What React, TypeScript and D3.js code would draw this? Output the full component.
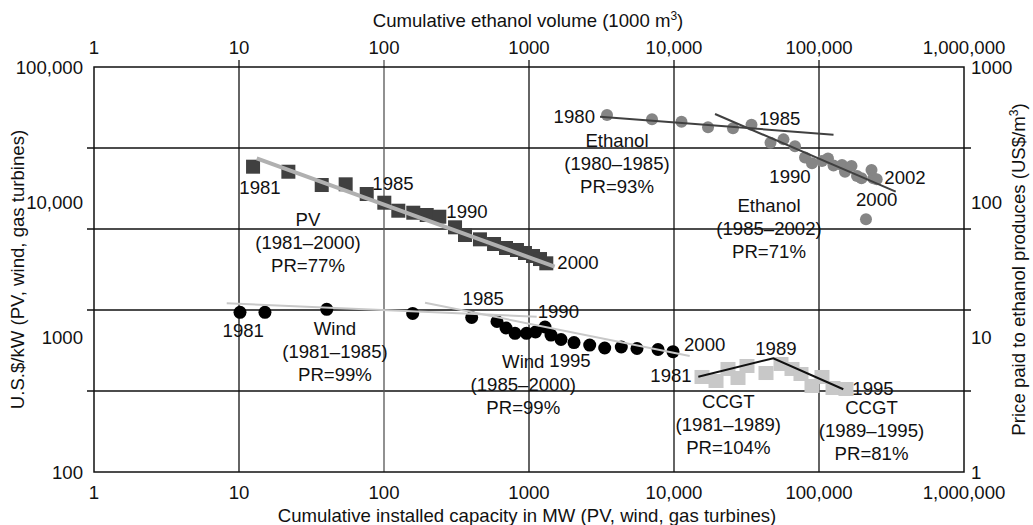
import React from 'react';
import * as d3 from 'd3';

const W = 1033;
const H = 525;
const P = { left: 94, right: 964, top: 67, bottom: 472 };
const FONT = '"Liberation Sans", Arial, Helvetica, sans-serif';
const FS = 18.6;
const LH = 23;

// Axis ticks
const xTickValues = [1, 10, 100, 1000, 10000, 100000, 1000000];
const xTickLabels = ['1', '10', '100', '1000', '10,000', '100,000', '1,000,000'];
const yLeftTickValues = [100, 1000, 10000, 100000];
const yLeftTickLabels = ['100', '1000', '10,000', '100,000'];
const yRightTickValues = [1, 10, 100, 1000];
const yRightTickLabels = ['1', '10', '100', '1000'];
const gridFractions = [0.2, 0.4, 0.6, 0.8];

// PV (1981-2000): cumulative MW vs US$/kW
const pvCapacity = [12.5, 21.9, 37.2, 54.4, 76.0, 100.5, 125.5, 159.2, 197, 240.6, 309, 362, 459, 574, 694, 826, 938, 1066, 1191, 1316];
const pvCost = [18260, 16760, 13360, 13520, 11460, 9880, 8620, 8330, 8010, 7780, 6495, 5695, 5290, 4885, 4563, 4410, 4190, 3980, 3780, 3515];
const pvFit = [[13.25, 21070], [1503, 3317]];

// Wind (1981-2000)
const windCapacity = [10.16, 15.1, 40.3, 157.7, 402.5, 601.5, 694, 800.7, 961, 1109, 1289, 1418, 1663, 2044, 2622, 3328, 4330, 5556, 7758, 9842];
const windCost = [1524, 1524, 1604, 1494, 1395, 1302, 1166, 1065, 1065, 1089, 1186, 1034, 958, 910, 872, 829, 843, 822, 808, 778];
const windFit1 = [[8.23, 1777], [1130, 1414]];
const windFit2 = [[191.8, 1795], [12834, 723]];

// Ethanol (1980-2002): cumulative 1000 m3 vs US$/m3
const ethanolVolume = [3451, 7052, 11262, 17162, 25520, 34230, 46290, 56900, 68310, 80080, 89470, 104880, 115350, 125900, 144100, 151100, 167500, 182900, 196400, 210900, 230200, 236900, 250000];
const ethanolPrice = [441, 410, 393, 358, 351.6, 373.8, 275, 291, 258.5, 213.6, 193.5, 201.2, 210, 186.4, 188, 167.6, 184.8, 155.8, 149.8, 74.5, 172.6, 149.8, 147.3];
const ethanolFit1 = [[3088, 428.7], [125900, 315]];
const ethanolFit2 = [[19180, 448.6], [338100, 119.2]];

// CCGT (1981-1995)
const ccgtCapacity = [15600, 19490, 23570, 27630, 31870, 43100, 54690, 65130, 75120, 89470, 104880, 124900, 153500];
const ccgtCost = [505.6, 472.2, 579.6, 497, 609.9, 541, 631, 579.6, 532, 433.5, 505.6, 419, 411.9];
const ccgtFit = [[14710, 508], [48390, 695.5], [147100, 410]];

// Annotations; axis 'L' = bottom/left scales, 'R' = top/right scales
type Ann = { x: number; y: number; lines: string[]; anchor?: string; axis: 'L' | 'R' };
const annotations: Ann[] = [
  { x: 13.96, y: 12910, lines: ['1981'], axis: 'L' },
  { x: 115.4, y: 13760, lines: ['1985'], axis: 'L' },
  { x: 373.6, y: 8475, lines: ['1990'], axis: 'L' },
  { x: 2177, y: 3552, lines: ['2000'], axis: 'L' },
  { x: 29.9, y: 7483, lines: ['PV', '(1981–2000)', 'PR=77%'], axis: 'L' },
  { x: 10.7, y: 1127, lines: ['1981'], axis: 'L' },
  { x: 45.9, y: 1160, lines: ['Wind', '(1981–1985)', 'PR=99%'], axis: 'L' },
  { x: 483.9, y: 1935, lines: ['1985'], axis: 'L' },
  { x: 1593, y: 1558, lines: ['1990'], axis: 'L' },
  { x: 913, y: 656, lines: ['Wind', '(1985–2000)', 'PR=99%'], axis: 'L' },
  { x: 1918, y: 667, lines: ['1995'], axis: 'L' },
  { x: 16280, y: 883, lines: ['2000'], axis: 'L' },
  { x: 2852, y: 428.5, lines: ['1980'], anchor: 'end', axis: 'R' },
  { x: 53580, y: 416.9, lines: ['1985'], axis: 'R' },
  { x: 4045, y: 287.9, lines: ['Ethanol', '(1980–1985)', 'PR=93%'], axis: 'R' },
  { x: 63100, y: 154, lines: ['1990'], axis: 'R' },
  { x: 391900, y: 152.4, lines: ['2002'], axis: 'R' },
  { x: 250000, y: 104.7, lines: ['2000'], axis: 'R' },
  { x: 45200, y: 95, lines: ['Ethanol', '(1985–2002)', 'PR=71%'], axis: 'R' },
  { x: 13250, y: 523, lines: ['1981'], anchor: 'end', axis: 'L' },
  { x: 50500, y: 825, lines: ['1989'], axis: 'L' },
  { x: 235800, y: 417, lines: ['1995'], axis: 'L' },
  { x: 23690, y: 331.7, lines: ['CCGT', '(1981–1989)', 'PR=104%'], axis: 'L' },
  { x: 230200, y: 298, lines: ['CCGT', '(1989–1995)', 'PR=81%'], axis: 'L' },
];

export default function App() {
  const x = d3.scaleLog().domain([1, 1e6]).range([P.left, P.right]);
  const xTop = d3.scaleLog().domain([1, 1e6]).range([P.left, P.right]);
  const yL = d3.scaleLog().domain([100, 1e5]).range([P.bottom, P.top]);
  const yR = d3.scaleLog().domain([1, 1000]).range([P.bottom, P.top]);

  const lineL = d3.line<number[]>().x((d) => x(d[0])).y((d) => yL(d[1]));
  const lineR = d3.line<number[]>().x((d) => xTop(d[0])).y((d) => yR(d[1]));

  const ph = P.bottom - P.top;
  const cy = (P.top + P.bottom) / 2;

  return (
    <svg
      width={W}
      height={H}
      style={{ position: 'absolute', left: 0, top: 0, background: '#fff' }}
      fontFamily={FONT}
      fontSize={FS}
    >
      <rect x={0} y={0} width={W} height={H} fill="#fff" />
      {gridFractions.map((f) => (
        <line key={'h' + f} x1={P.left - 7} x2={P.right + 7} y1={P.top + f * ph} y2={P.top + f * ph} stroke="#111" strokeWidth={1.3} />
      ))}
      {xTickValues.slice(1, -1).map((v) => (
        <line key={'v' + v} x1={x(v)} x2={x(v)} y1={P.top - 7} y2={P.bottom} stroke={v === 100 ? '#555' : '#111'} strokeWidth={1.3} />
      ))}
      <rect x={P.left} y={P.top} width={P.right - P.left} height={ph} fill="none" stroke="#111" strokeWidth={1.5} />

      {xTickValues.map((v, i) => (
        <text key={'bt' + v} x={x(v)} y={492} dy="0.35em" textAnchor="middle" fill="#111">{xTickLabels[i]}</text>
      ))}
      {xTickValues.map((v, i) => (
        <text key={'tt' + v} x={xTop(v)} y={47} dy="0.35em" textAnchor="middle" fill="#111">{xTickLabels[i]}</text>
      ))}
      {yLeftTickValues.map((v, i) => (
        <text key={'lt' + v} x={83} y={yL(v)} dy="0.35em" textAnchor="end" fill="#111">{yLeftTickLabels[i]}</text>
      ))}
      {yRightTickValues.map((v, i) => (
        <text key={'rt' + v} x={971} y={yR(v)} dy="0.35em" textAnchor="start" fill="#111">{yRightTickLabels[i]}</text>
      ))}

      <text x={528} y={20} dy="0.35em" textAnchor="middle" fill="#111">
        Cumulative ethanol volume (1000 m<tspan dy="-7" fontSize={12}>3</tspan><tspan dy="7">)</tspan>
      </text>
      <text x={527} y={515} dy="0.35em" textAnchor="middle" fill="#111">
        Cumulative installed capacity in MW (PV, wind, gas turbines)
      </text>
      <text transform={`translate(17,${cy}) rotate(-90)`} dy="0.35em" textAnchor="middle" fill="#111">
        U.S.$/kW (PV, wind, gas turbines)
      </text>
      <text transform={`translate(1018,${cy}) rotate(-90)`} dy="0.35em" textAnchor="middle" fill="#111">
        Price paid to ethanol produces (US$/m<tspan dy="-7" fontSize={12}>3</tspan><tspan dy="7">)</tspan>
      </text>

      {pvCapacity.map((c, i) => (
        <rect key={'pv' + i} x={x(c) - 7} y={yL(pvCost[i]) - 7} width={14} height={14} fill="#404040" />
      ))}
      <path d={lineL(pvFit) || ''} stroke="#b0b0b0" strokeWidth={4} fill="none" />

      {windCapacity.map((c, i) => (
        <circle key={'w' + i} cx={x(c)} cy={yL(windCost[i])} r={6.5} fill="#000" />
      ))}
      <path d={lineL(windFit1) || ''} stroke="#c8c8c8" strokeWidth={2} fill="none" />
      <path d={lineL(windFit2) || ''} stroke="#c8c8c8" strokeWidth={2} fill="none" />

      {ethanolVolume.map((v, i) => (
        <circle key={'e' + i} cx={xTop(v)} cy={yR(ethanolPrice[i])} r={6} fill="#858585" />
      ))}
      <path d={lineR(ethanolFit1) || ''} stroke="#404040" strokeWidth={2} fill="none" />
      <path d={lineR(ethanolFit2) || ''} stroke="#404040" strokeWidth={2} fill="none" />

      {ccgtCapacity.map((c, i) => (
        <rect key={'c' + i} x={x(c) - 7.5} y={yL(ccgtCost[i]) - 7} width={15} height={14} fill="#c8c8c8" />
      ))}
      <path d={lineL(ccgtFit) || ''} stroke="#111" strokeWidth={2} fill="none" />

      {annotations.map((a, i) => {
        const ax = a.axis === 'L' ? x(a.x) : xTop(a.x);
        const ay = a.axis === 'L' ? yL(a.y) : yR(a.y);
        return (
          <text key={'a' + i} x={ax} y={ay} textAnchor={a.anchor || 'middle'} fill="#111">
            {a.lines.map((l, j) => (
              <tspan key={j} x={ax} y={ay + j * LH} dy="0.35em">{l}</tspan>
            ))}
          </text>
        );
      })}
    </svg>
  );
}
